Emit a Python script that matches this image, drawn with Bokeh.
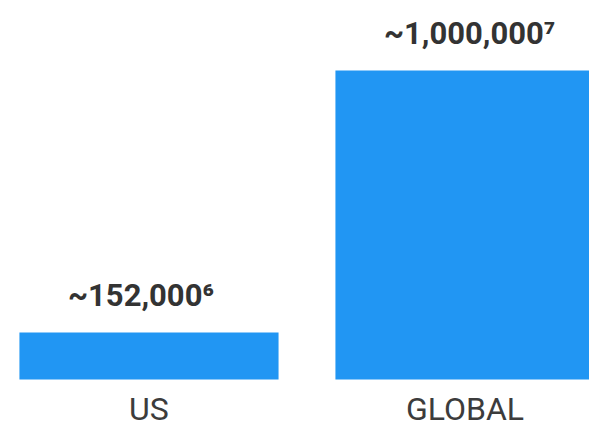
from bokeh.plotting import figure
from bokeh.models import Range1d, ColumnDataSource
from bokeh.core.properties import value
from bokeh.embed import file_html
from bokeh.resources import INLINE

categories = ["US", "GLOBAL"]
counts = [152000, 1000000]
labels = ["~152,000\u2076", "~1,000,000\u2077"]

pos = list(range(len(categories)))
src = ColumnDataSource(dict(x=pos, top=counts, label=labels, cat=categories, base=[0] * len(pos)))

p = figure(width=589, height=427, output_backend="svg", toolbar_location=None,
           x_range=Range1d(-0.4699, 1.3940), y_range=Range1d(-155340, 1226537),
           min_border_left=0, min_border_right=0, min_border_top=0, min_border_bottom=0)
p.vbar(x="x", top="top", width=0.82, bottom=0, source=src, color="#2196F3", line_color=None)
p.text(x="x", y="top", text="label", source=src, x_offset=-81, y_offset=-37,
       text_align="left", text_baseline="alphabetic", text_font=value("Roboto"),
       text_font_style="bold", text_font_size="31px", text_color="#333333")
p.text(x="x", y="base", text="cat", source=src, y_offset=30,
       text_align="center", text_baseline="alphabetic", text_font=value("Roboto"),
       text_font_size="32px", text_color="#3c3c3c")

p.axis.visible = False
p.grid.visible = False
p.outline_line_color = None

open("out.html", "w").write(file_html(p, INLINE))
